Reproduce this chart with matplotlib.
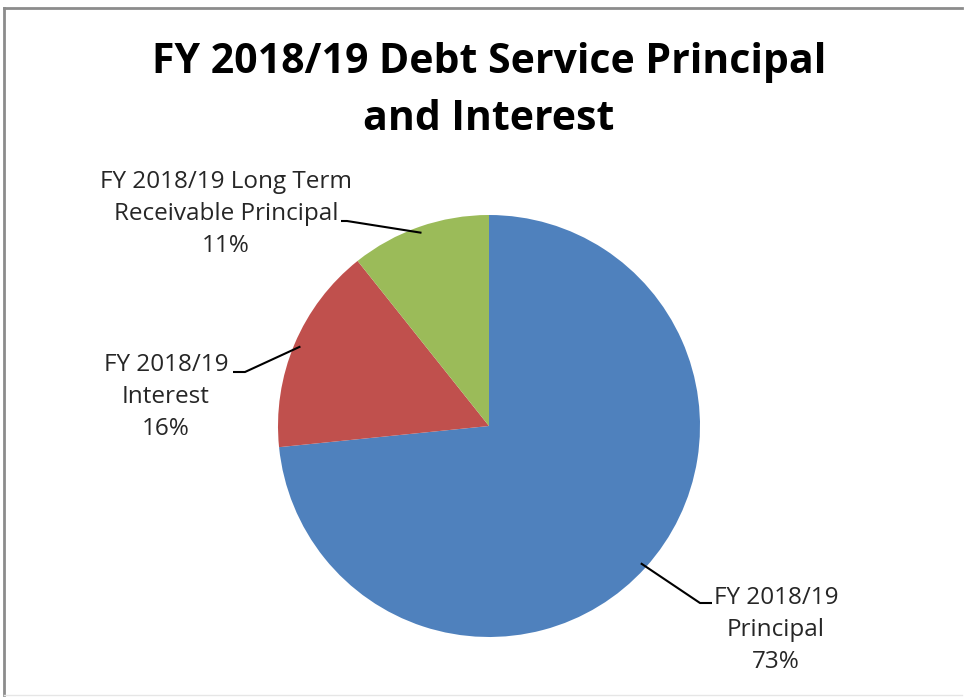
import numpy as np
import matplotlib
matplotlib.use("Agg")
import matplotlib.pyplot as plt

title = "FY 2018/19 Debt Service Principal\nand Interest"
labels = ["FY 2018/19\nPrincipal", "FY 2018/19\nInterest", "FY 2018/19 Long Term\nReceivable Principal"]
values = [73.4, 15.9, 10.7]
pct_labels = ["73%", "16%", "11%"]
colors = ["#4F81BD", "#C0504D", "#9BBB59"]

W, H = 964, 700
fig = plt.figure(figsize=(W / 100, H / 100), dpi=100)
ax = fig.add_axes([0, 0, 1, 1])
ax.set_xlim(0, W)
ax.set_ylim(0, H)
ax.set_aspect("equal")
ax.axis("off")

center = (489, H - 426)
radius = 211
wedges, _ = ax.pie(values, colors=colors, startangle=90, counterclock=False,
                   center=center, radius=radius,
                   wedgeprops=dict(edgecolor="none", linewidth=0))
ax.set_xlim(0, W)
ax.set_ylim(0, H)

font = "Open Sans"
ax.text(489, H - 91, title, ha="center", va="center", fontsize=29.5,
        fontweight="bold", family=font, linespacing=1.5, color="#000000")

# label block centers (pixel coords) and leader elbows
label_pos = [(776, 630), (166, 397), (226, 214)]
elbow = [((700, 603), (712, 603)), ((245, 372), (233, 372)), ((347, 221), (341, 221))]

for i, w in enumerate(wedges):
    ang = np.deg2rad((w.theta1 + w.theta2) / 2)
    ax_pt = (center[0] + radius * 0.97 * np.cos(ang), center[1] + radius * 0.97 * np.sin(ang))
    (e1x, e1y), (e2x, e2y) = elbow[i]
    ax.plot([ax_pt[0], e1x, e2x], [ax_pt[1], H - e1y, H - e2y], color="black", lw=1.5,
            solid_capstyle="butt")
    lx, ly = label_pos[i]
    ax.text(lx, H - ly, labels[i] + "\n" + pct_labels[i], ha="center", va="center",
            fontsize=17.5, family=font, linespacing=1.42, color="#262626")

# border
ax.plot([4, 4], [H - 8, H - 695], color="#8c8c8c", lw=2)
ax.plot([4, 962], [H - 8, H - 8], color="#8c8c8c", lw=2)
ax.plot([4, 962], [H - 695, H - 695], color="#e6e6e6", lw=1)

fig.savefig("out.png", dpi=100)
